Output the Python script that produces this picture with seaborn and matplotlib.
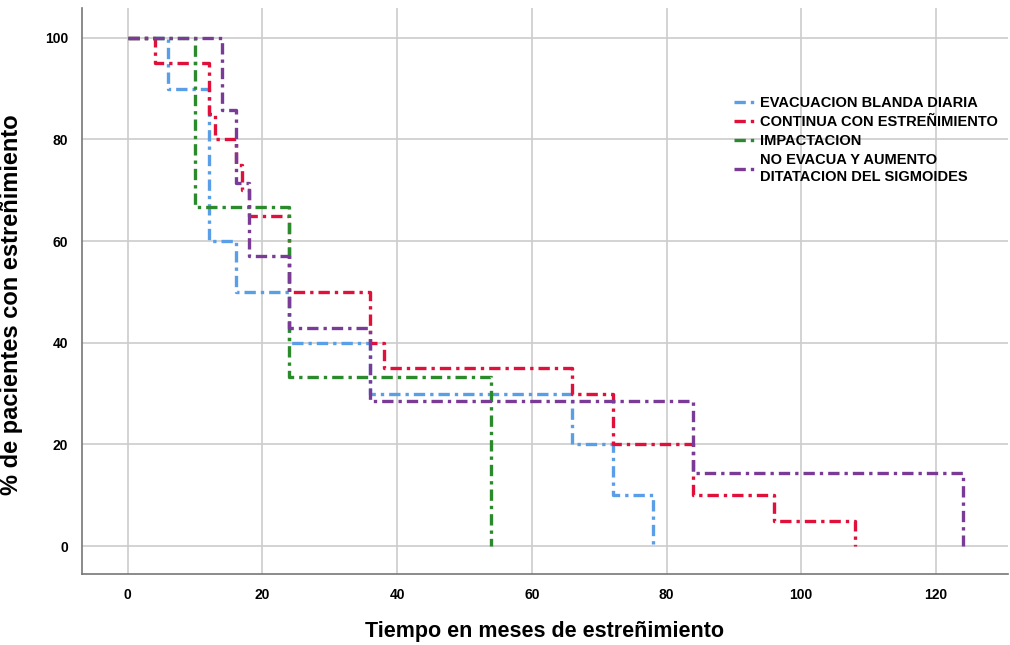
import seaborn as sns
import matplotlib.pyplot as plt
import pandas as pd

# Kaplan-Meier style step curves
groups = ["EVACUACION BLANDA DIARIA", "CONTINUA CON ESTREÑIMIENTO",
          "IMPACTACION", "NO EVACUA Y AUMENTO\nDITATACION DEL SIGMOIDES"]

t_blanda = [0, 6, 12, 16, 24, 36, 66, 72, 78]
s_blanda = [100, 90, 60, 50, 40, 30, 20, 10, 0]

t_continua = [0, 4, 12, 13, 16, 17, 18, 24, 36, 38, 66, 72, 84, 96, 108]
s_continua = [100, 95, 85, 80, 75, 70, 65, 50, 40, 35, 30, 20, 10, 5, 0]

t_impact = [0, 10, 24, 54]
s_impact = [100, 66.7, 33.3, 0]

t_noevac = [0, 14, 16, 18, 24, 36, 84, 124]
s_noevac = [100, 85.7, 71.4, 57.1, 42.9, 28.6, 14.3, 0]

colors = ["#5a9ee8", "#e0103a", "#2b8a2b", "#7a3b96"]

frames = []
for g, t, s in zip(groups, [t_blanda, t_continua, t_impact, t_noevac],
                   [s_blanda, s_continua, s_impact, s_noevac]):
    frames.append(pd.DataFrame({"tiempo": t, "pct": s, "grupo": g}))
df = pd.concat(frames, ignore_index=True)

sns.set_style("white")
plt.rcParams["font.family"] = ["Liberation Sans", "DejaVu Sans"]
plt.rcParams["text.color"] = "black"

fig = plt.figure(figsize=(10.1, 6.45), dpi=100)
ax = fig.add_axes([0.0812, 0.110, 0.9168, 0.878])

for g, c in zip(groups, colors):
    sns.lineplot(data=df[df["grupo"] == g], x="tiempo", y="pct", ax=ax,
                 color=c, drawstyle="steps-post", estimator=None, sort=False,
                 linewidth=2.4, linestyle=(0, (3.4, 1.5, 1, 1.5)), label=g)

ax.set_xlim(-6.8, 130.7)
ax.set_ylim(-5.5, 105.9)
ax.set_xticks(range(0, 121, 20))
ax.set_yticks(range(0, 101, 20))
ax.grid(True, color="#cccccc", linewidth=1.2)
for side in ["top", "right"]:
    ax.spines[side].set_visible(False)
for side in ["left", "bottom"]:
    ax.spines[side].set_color("#777777")
    ax.spines[side].set_linewidth(1.2)
ax.tick_params(length=0, labelsize=10, pad=10, labelcolor="black")
for lab in ax.get_xticklabels() + ax.get_yticklabels():
    lab.set_fontweight("bold")

ax.set_xlabel("Tiempo en meses de estreñimiento", fontsize=15.5,
              fontweight="bold", labelpad=14, color="black")
ax.set_ylabel("% de pacientes con estreñimiento", fontsize=17,
              fontweight="bold", labelpad=18, color="black")
ax.yaxis.set_label_coords(-0.064, 0.475)

leg = ax.legend(loc="upper left", bbox_to_anchor=(0.69, 0.867), frameon=False,
                handlelength=1.6, handletextpad=0.2, labelspacing=0.35,
                prop={"weight": "bold", "size": 10.5})

fig.savefig("out.png", dpi=100)
